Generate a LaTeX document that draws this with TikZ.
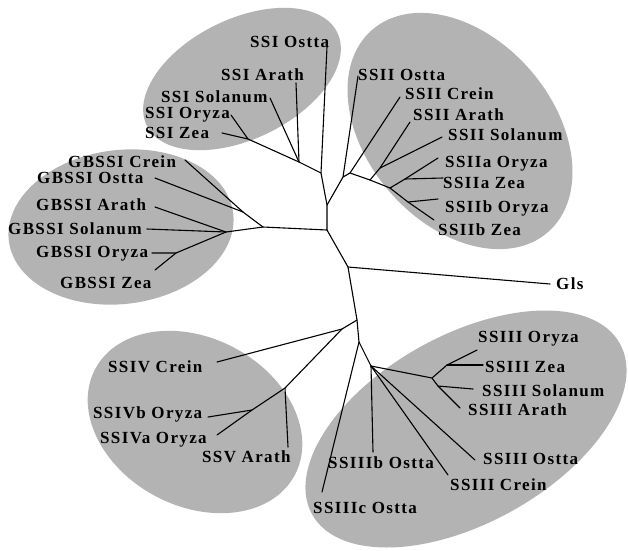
\documentclass[tikz,border=0pt]{standalone}
\usepackage{fontspec}
\setmainfont{Liberation Serif}
\usetikzlibrary{shapes.geometric}
\definecolor{ellgray}{RGB}{179,179,179}
\begin{document}
\begin{tikzpicture}[x=1pt,y=-1pt,
  lbl/.style={anchor=base west, inner sep=0pt, font=\fontsize{17}{20}\selectfont\bfseries\addfontfeature{LetterSpace=8}},
  br/.style={draw=black, line width=1.1pt, line cap=round, line join=round},
  clade/.style={ellipse, fill=ellgray, draw=none, inner sep=0pt}]
\useasboundingbox (0,0) rectangle (628,550);
% clade ellipses
\node[clade, minimum width=212pt, minimum height=120pt, rotate=26] (eSSI) at (242,79) {};
\node[clade, minimum width=268pt, minimum height=186pt, rotate=-49] (eSSII) at (460,131) {};
\node[clade, minimum width=226pt, minimum height=154pt, rotate=7] (eGBSSI) at (121,227) {};
\node[clade, minimum width=226pt, minimum height=168pt, rotate=-28] (eSSIV) at (195,422) {};
\node[clade, minimum width=352pt, minimum height=188pt, rotate=29] (eSSIII) at (466,429) {};
% internal junctions
\coordinate (A) at (321,173);
\coordinate (A2) at (299,162);
\coordinate (A3) at (248,139);
\coordinate (B) at (327,205);
\coordinate (K) at (343,177);
\coordinate (K2) at (350,173);
\coordinate (L) at (370,180);
\coordinate (M) at (380,168);
\coordinate (N) at (390,188);
\coordinate (O) at (405,179);
\coordinate (P) at (408,202);
\coordinate (U) at (327,230);
\coordinate (R) at (263,227);
\coordinate (Q) at (243,212);
\coordinate (S) at (226,232);
\coordinate (T) at (176,253);
\coordinate (C) at (348,267);
\coordinate (D) at (357,320);
\coordinate (E) at (342,329);
\coordinate (V) at (285,388);
\coordinate (W) at (252,410);
\coordinate (F) at (359,342);
\coordinate (G) at (371,366);
\coordinate (H) at (432,378);
\coordinate (I) at (447,365);
\coordinate (J) at (438,386);
% leaf tips
\coordinate (t1) at (327,47);
\coordinate (t2) at (296,83);
\coordinate (t3) at (270,98);
\coordinate (t4) at (231,115);
\coordinate (t5) at (222,133);
\coordinate (u1) at (358,76);
\coordinate (u2) at (400,97);
\coordinate (u3) at (410,122);
\coordinate (u4) at (442,137);
\coordinate (u5) at (438,158);
\coordinate (u6) at (443,178);
\coordinate (u7) at (438,199);
\coordinate (u8) at (434,220);
\coordinate (g1) at (185,160);
\coordinate (g2) at (155,178);
\coordinate (g3) at (155,207);
\coordinate (g4) at (147,229);
\coordinate (g5) at (152,253);
\coordinate (g6) at (155,270);
\coordinate (gl) at (550,284);
\coordinate (v1) at (217,362);
\coordinate (v2) at (208,417);
\coordinate (v3) at (217,435);
\coordinate (v4) at (288,447);
\coordinate (w1) at (477,350);
\coordinate (w2) at (483,365);
\coordinate (w3) at (473,389);
\coordinate (w4) at (460,408);
\coordinate (w5) at (475,460);
\coordinate (w6) at (448,475);
\coordinate (w7) at (373,452);
\coordinate (w8) at (322,492);
% branches
\draw[br] (t1) -- (A) -- (B) -- (U) -- (C) -- (D) -- (F) -- (G);
\draw[br] (A) -- (A2) -- (A3) -- (t5);
\draw[br] (A2) -- (t2);
\draw[br] (A2) -- (t3);
\draw[br] (A3) -- (t4);
\draw[br] (B) -- (K) -- (u1);
\draw[br] (K) -- (K2) -- (u2);
\draw[br] (K2) -- (L) -- (M) -- (u3);
\draw[br] (M) -- (u4);
\draw[br] (L) -- (N) -- (O) -- (u5);
\draw[br] (O) -- (u6);
\draw[br] (N) -- (P) -- (u8);
\draw[br] (P) -- (u7);
\draw[br] (U) -- (R) -- (Q) -- (g1);
\draw[br] (Q) -- (g2);
\draw[br] (R) -- (S) -- (g3);
\draw[br] (S) -- (g4);
\draw[br] (S) -- (T) -- (g5);
\draw[br] (T) -- (g6);
\draw[br] (C) -- (gl);
\draw[br] (D) -- (E) -- (v1);
\draw[br] (E) -- (V) -- (v4);
\draw[br] (V) -- (W) -- (v3);
\draw[br] (W) -- (v2);
\draw[br] (F) -- (w8);
\draw[br] (G) -- (w7);
\draw[br] (G) -- (H) -- (I) -- (w1);
\draw[br] (I) -- (w2);
\draw[br] (H) -- (J) -- (w3);
\draw[br] (J) -- (w4);
\draw[br] (G) -- (w5);
\draw[br] (G) -- (w6);
% labels
\node[lbl] (lSSIOstta) at (250,47) {SSI Ostta};
\node[lbl] (lSSIArath) at (221,80) {SSI Arath};
\node[lbl] (lSSISolanum) at (161,102) {SSI Solanum};
\node[lbl] (lSSIOryza) at (145,118) {SSI Oryza};
\node[lbl] (lSSIZea) at (145,138) {SSI Zea};
\node[lbl] (lSSIIOstta) at (358,80) {SSII Ostta};
\node[lbl] (lSSIICrein) at (405,99) {SSII Crein};
\node[lbl] (lSSIIArath) at (413,120) {SSII Arath};
\node[lbl] (lSSIISolanum) at (448,140) {SSII Solanum};
\node[lbl] (lSSIIaOryza) at (445,167) {SSIIa Oryza};
\node[lbl] (lSSIIaZea) at (443,188) {SSIIa Zea};
\node[lbl] (lSSIIbOryza) at (445,212) {SSIIb Oryza};
\node[lbl] (lSSIIbZea) at (438,235) {SSIIb Zea};
\node[lbl] (lGCrein) at (68,167) {GBSSI Crein};
\node[lbl] (lGOstta) at (37,183) {GBSSI Ostta};
\node[lbl] (lGArath) at (36,210) {GBSSI Arath};
\node[lbl] (lGSolanum) at (8,234) {GBSSI Solanum};
\node[lbl] (lGOryza) at (36,257) {GBSSI Oryza};
\node[lbl] (lGZea) at (60,288) {GBSSI Zea};
\node[lbl] (lGls) at (556,289) {Gls};
\node[lbl] (lSSIVCrein) at (108,372) {SSIV Crein};
\node[lbl] (lSSIVbOryza) at (93,418) {SSIVb Oryza};
\node[lbl] (lSSIVaOryza) at (100,443) {SSIVa Oryza};
\node[lbl] (lSSVArath) at (202,462) {SSV Arath};
\node[lbl] (lSSIIIOryza) at (478,342) {SSIII Oryza};
\node[lbl] (lSSIIIZea) at (485,372) {SSIII Zea};
\node[lbl] (lSSIIISolanum) at (482,396) {SSIII Solanum};
\node[lbl] (lSSIIIArath) at (468,415) {SSIII Arath};
\node[lbl] (lSSIIIOstta) at (483,464) {SSIII Ostta};
\node[lbl] (lSSIIICrein) at (450,490) {SSIII Crein};
\node[lbl] (lSSIIIbOstta) at (328,468) {SSIIIb Ostta};
\node[lbl] (lSSIIIcOstta) at (313,513) {SSIIIc Ostta};
\end{tikzpicture}
\end{document}
